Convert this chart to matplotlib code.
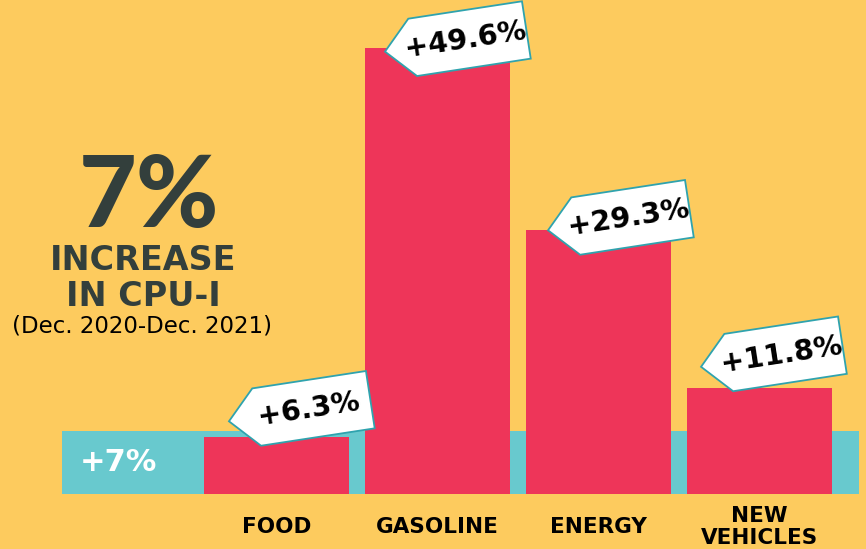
import matplotlib
matplotlib.use("Agg")
import matplotlib.pyplot as plt
from matplotlib.patches import Polygon, Rectangle
from matplotlib import transforms
import numpy as np

categories = ["FOOD", "GASOLINE", "ENERGY", "NEW\nVEHICLES"]
values = [6.3, 49.6, 29.3, 11.8]
value_labels = ["+6.3%", "+49.6%", "+29.3%", "+11.8%"]
cpi_value = 7
cpi_label = "+7%"
headline = "7%"
sub1 = "INCREASE"
sub2 = "IN CPU-I"
period = "(Dec. 2020-Dec. 2021)"

BG = "#FDCB5E"
RED = "#EE3559"
TEAL = "#68C9CE"
DARK = "#333F3C"
EDGE = "#2FA3AE"
FONT = ["DejaVu Sans"]
HEAD_FONT = ["Lato", "DejaVu Sans"]

W, H, DPI = 866, 549, 100
fig = plt.figure(figsize=(W / DPI, H / DPI), dpi=DPI, facecolor=BG)
ax = fig.add_axes([0, 55 / H, 1, 494 / H])
ax.set_facecolor(BG)
ax.set_xlim(-1.717, 3.661)
ax.set_ylim(0, 494 / 9.0)
ax.axis("off")

# CPI band
ax.add_patch(Rectangle((-1.332, 0), 3.618 + 1.332, cpi_value, facecolor=TEAL,
                       edgecolor="none", zorder=1))
ax.text(-1.332 + 0.35, cpi_value / 2, cpi_label, color="white", fontsize=22,
        fontweight="bold", family=FONT, ha="center", va="center", zorder=3)

x = np.arange(len(categories))
bw = 0.9006
bars = ax.bar(x, values, width=bw, color=RED, zorder=2)

# tags
angle = 8.7
tip_offsets = [(25, 16), (20, -4), (22, 0), (14, 21)]  # pixels from bar top-left
shape = np.array([[0, 0], [28, 29], [143, 29], [143, -29], [28, -29]])
for i, (v, lab) in enumerate(zip(values, value_labels)):
    dx, dy = tip_offsets[i]
    base = transforms.ScaledTranslation(x[i] - bw / 2, v, ax.transData)
    tr = transforms.Affine2D().rotate_deg(angle).translate(dx, dy) + base
    poly = Polygon(shape, closed=True, facecolor="white", edgecolor=EDGE,
                   linewidth=1.3, transform=tr, zorder=4, clip_on=False)
    ax.add_patch(poly)
    ax.text(81, 0, lab, transform=tr, rotation=angle, rotation_mode="anchor",
            ha="center", va="center", fontsize=20.5, fontweight="bold",
            family=FONT, color="black", zorder=5, clip_on=False)

# category labels
for i, c in enumerate(categories):
    ax.annotate(c, (x[i], 0), xytext=(0, -33), textcoords="offset pixels",
                ha="center", va="center", fontsize=15.5, fontweight="bold",
                family=FONT, color="black", linespacing=1.1,
                annotation_clip=False)

# left headline
def ft(px, py, s, family=FONT, **kw):
    fig.text(px / W, 1 - py / H, s, ha="center", va="center", family=family, **kw)

ft(149, 199, headline, family=HEAD_FONT, fontsize=72, fontweight="black", color=DARK)
ft(143, 261, sub1, fontsize=24, fontweight="bold", color=DARK)
ft(143, 297, sub2, fontsize=24, fontweight="bold", color=DARK)
ft(142, 326, period, fontsize=16.5, color="black")

fig.savefig("out.png", dpi=DPI, facecolor=BG)
